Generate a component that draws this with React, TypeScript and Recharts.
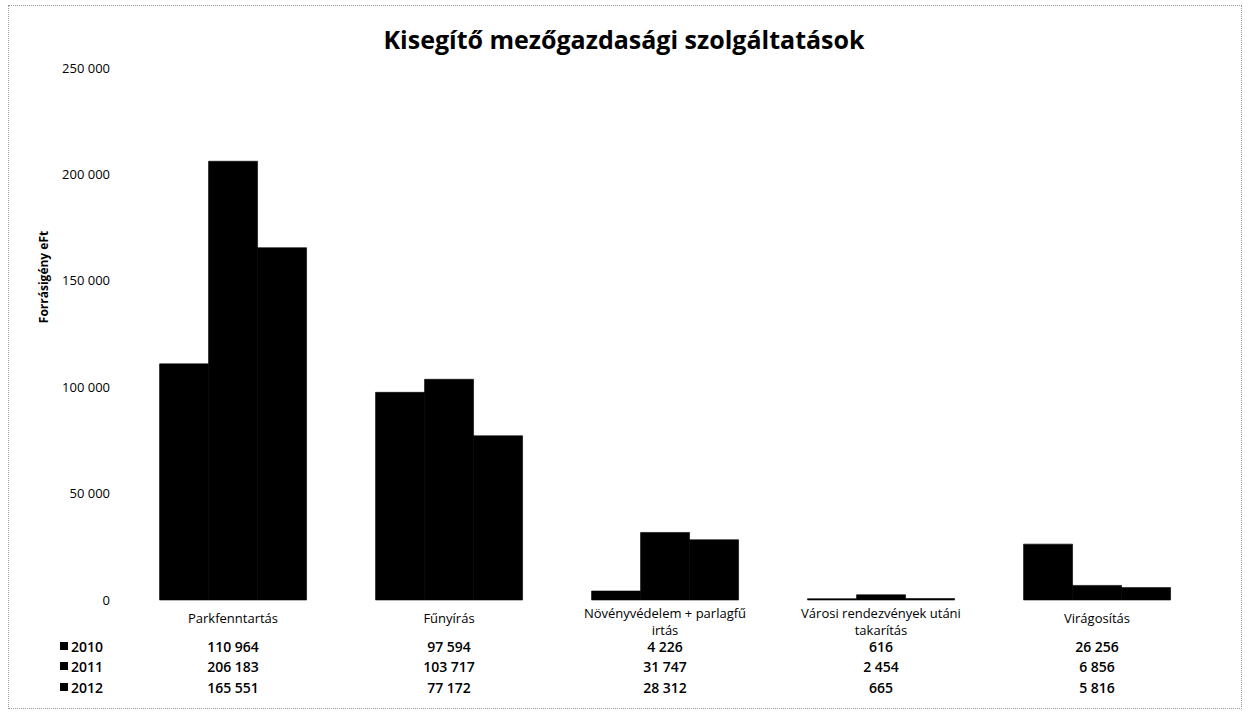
import { BarChart, Bar, XAxis, YAxis } from "recharts";

const categories = [
  "Parkfenntartás",
  "Fűnyírás",
  "Növényvédelem + parlagfű irtás",
  "Városi rendezvények utáni takarítás",
  "Virágosítás",
];
// how the category labels wrap under the axis
const categoryLines = [
  ["Parkfenntartás"],
  ["Fűnyírás"],
  ["Növényvédelem + parlagfű", "irtás"],
  ["Városi rendezvények utáni", "takarítás"],
  ["Virágosítás"],
];
const years = ["2010", "2011", "2012"];
const values2010 = [110964, 97594, 4226, 616, 26256];
const values2011 = [206183, 103717, 31747, 2454, 6856];
const values2012 = [165551, 77172, 28312, 665, 5816];
const yTicks = [0, 50000, 100000, 150000, 200000, 250000];

const series = [values2010, values2011, values2012];
const data = categories.map((name, i) => ({
  name,
  y2010: values2010[i],
  y2011: values2011[i],
  y2012: values2012[i],
}));

const FONT = "'Open Sans', sans-serif";
const fmt = (n: number) => String(n).replace(/\B(?=(\d{3})+(?!\d))/g, " ");

/** Category label plus the data-table column underneath it. */
function TableTick(props: any) {
  const { x, y, payload } = props;
  const idx = props.index ?? payload.index ?? categories.indexOf(payload.value);
  const lines = categoryLines[idx] ?? [payload.value];
  const rowY = [y + 52, y + 72, y + 93];
  return (
    <g fontFamily={FONT} fontSize={13} fill="#000">
      {lines.map((l, k) => (
        <text
          key={k}
          x={x}
          y={lines.length === 1 ? y + 23 : y + 18 + k * 17}
          textAnchor="middle"
        >
          {l}
        </text>
      ))}
      {series.map((s, r) => (
        <text
          key={r}
          x={x}
          y={rowY[r]}
          textAnchor="middle"
          fontWeight={600}
          fontSize={14}
        >
          {fmt(s[idx])}
        </text>
      ))}
      {idx === 0 &&
        years.map((yr, r) => (
          <g key={yr}>
            <rect x={60} y={rowY[r] - 10} width={8} height={8} fill="#000" />
            <text x={71} y={rowY[r]} fontWeight={600} fontSize={14}>
              {yr}
            </text>
          </g>
        ))}
    </g>
  );
}

function YTitle() {
  return (
    <text
      x={48}
      y={277}
      transform="rotate(-90 48 277)"
      textAnchor="middle"
      fontFamily={FONT}
      fontSize={12}
      fontWeight={700}
      fill="#000"
    >
      Forrásigény eFt
    </text>
  );
}

export default function App() {
  return (
    <div
      style={{
        position: "absolute",
        left: 0,
        top: 0,
        width: 1248,
        height: 716,
        background: "#fff",
      }}
    >
      <div
        style={{
          position: "absolute",
          left: 8,
          top: 5,
          width: 1232,
          height: 702,
          border: "1px dotted #9a9a9a",
        }}
      />
      <div
        style={{
          position: "absolute",
          left: 0,
          top: 22,
          width: 1248,
          textAlign: "center",
          fontFamily: FONT,
          fontSize: 25,
          fontWeight: 700,
          color: "#000",
        }}
      >
        Kisegítő mezőgazdasági szolgáltatások
      </div>
      <BarChart
        width={1248}
        height={716}
        data={data}
        margin={{ top: 68, right: 43, bottom: 16, left: 0 }}
        barGap={0}
        barCategoryGap="16%"
      >
        <YAxis
          width={125}
          domain={[0, 250000]}
          ticks={yTicks}
          tickFormatter={fmt}
          axisLine={false}
          tickLine={false}
          tickMargin={9}
          tick={{ fontFamily: FONT, fontSize: 13, fill: "#000" }}
          label={<YTitle />}
        />
        <XAxis
          dataKey="name"
          height={100}
          axisLine={false}
          tickLine={false}
          tickSize={0}
          tickMargin={0}
          interval={0}
          tick={<TableTick />}
        />
        <Bar dataKey="y2010" fill="#000" stroke="#000" strokeWidth={0.6} isAnimationActive={false} />
        <Bar dataKey="y2011" fill="#000" stroke="#000" strokeWidth={0.6} isAnimationActive={false} />
        <Bar dataKey="y2012" fill="#000" stroke="#000" strokeWidth={0.6} isAnimationActive={false} />
      </BarChart>
    </div>
  );
}
